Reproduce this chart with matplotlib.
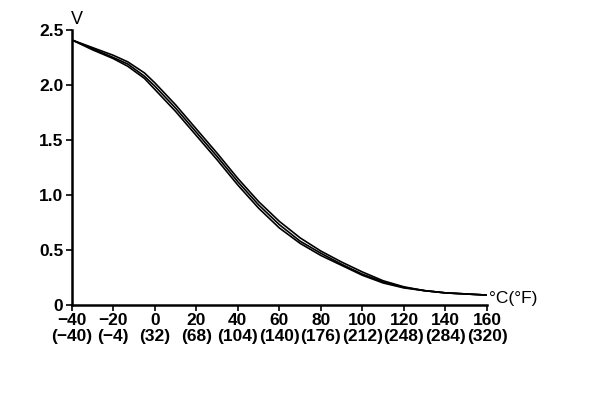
import matplotlib
matplotlib.use("Agg")
import matplotlib.pyplot as plt

# sensor output voltage vs temperature (tolerance band: upper / nominal / lower)
temp_c = [-40, -30, -20, -13, -5, 0, 10, 20, 30, 40, 50, 60, 70, 80, 90, 100, 110, 120, 130, 140, 150, 160]
volt_mid = [2.41, 2.33, 2.25, 2.19, 2.08, 1.99, 1.79, 1.57, 1.35, 1.12, 0.91, 0.73, 0.58, 0.47, 0.37, 0.28, 0.21, 0.16, 0.13, 0.11, 0.10, 0.09]
volt_upper = [2.41, 2.34, 2.27, 2.21, 2.11, 2.02, 1.82, 1.60, 1.38, 1.15, 0.94, 0.76, 0.61, 0.49, 0.39, 0.30, 0.22, 0.165, 0.13, 0.11, 0.10, 0.09]
volt_lower = [2.41, 2.32, 2.24, 2.17, 2.06, 1.96, 1.76, 1.54, 1.32, 1.09, 0.88, 0.70, 0.56, 0.45, 0.36, 0.27, 0.20, 0.155, 0.13, 0.11, 0.10, 0.09]

x_ticks = [-40, -20, 0, 20, 40, 60, 80, 100, 120, 140, 160]
f_labels = ["(\u221240)", "(\u22124)", "(32)", "(68)", "(104)", "(140)", "(176)", "(212)", "(248)", "(284)", "(320)"]
y_ticks = [0, 0.5, 1.0, 1.5, 2.0, 2.5]
y_labels = ["0", "0.5", "1.0", "1.5", "2.0", "2.5"]

plt.rcParams['font.family'] = ['Liberation Sans', 'DejaVu Sans']

fig = plt.figure(figsize=(6.08, 4.08), dpi=100)
ax = fig.add_axes([0.118, 0.2525, 0.683, 0.674])

for v in (volt_upper, volt_mid, volt_lower):
    ax.plot(temp_c, v, color='black', lw=1.2, solid_capstyle='butt')

ax.set_xlim(-40, 160)
ax.set_ylim(0, 2.5)
ax.spines['top'].set_visible(False)
ax.spines['right'].set_visible(False)
ax.spines['left'].set_linewidth(1.8)
ax.spines['bottom'].set_linewidth(1.8)

x_labels = [f"{t}".replace("-", "\u2212") + "\n" + f for t, f in zip(x_ticks, f_labels)]
ax.set_xticks(x_ticks)
ax.set_xticklabels(x_labels, fontsize=12.5, fontweight='bold', linespacing=1.05)
ax.set_yticks(y_ticks)
ax.set_yticklabels(y_labels, fontsize=12.5, fontweight='bold')
ax.tick_params(axis='x', direction='out', length=4, width=1.2, pad=2, colors='black')
ax.tick_params(axis='y', direction='out', length=4, width=1.2, pad=2, colors='black')

ax.text(-40.5, 2.52, "V", fontsize=13, ha='left', va='bottom')
ax.text(161, 0.06, "\u00b0C(\u00b0F)", fontsize=12.5, ha='left', va='center')

fig.savefig("out.png", dpi=100)
